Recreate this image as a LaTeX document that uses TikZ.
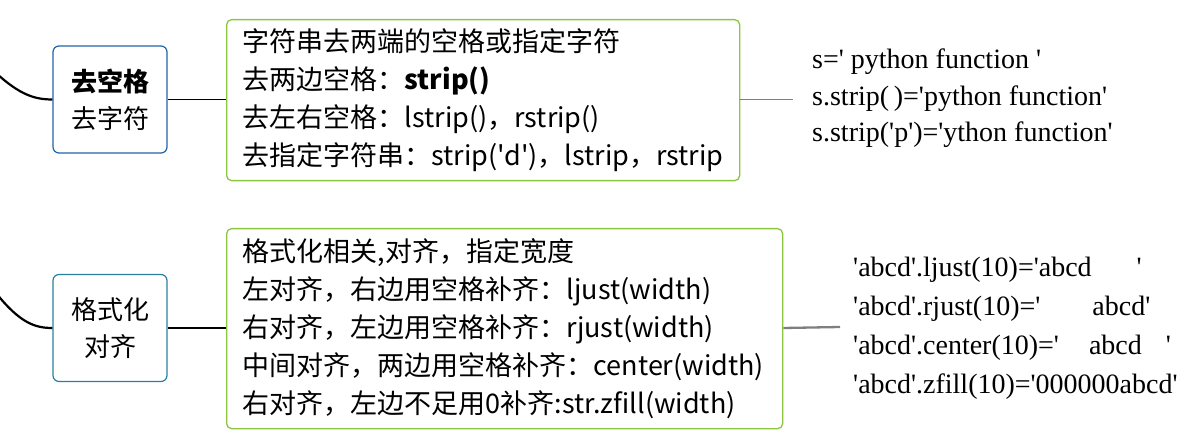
\documentclass[tikz,border=0pt]{standalone}
\usepackage{fontspec}
\setmainfont{Liberation Serif}[Ligatures=TeXOff]
\newfontfamily\cjk{Noto Sans CJK SC}[Ligatures=TeXOff]
\definecolor{grn}{HTML}{8CC63F}
\definecolor{bluA}{HTML}{1E64A8}
\definecolor{bluB}{HTML}{2A7F9E}
\definecolor{gry}{HTML}{7F7F7F}
\tikzset{
  topicbox/.style={draw, line width=1.2pt, rounded corners=6pt, minimum width=114pt, minimum height=107pt, align=center, inner sep=0pt, font=\cjk\fontsize{26}{37}\selectfont},
  notebox/.style={draw=grn, line width=1.3pt, rounded corners=5pt, anchor=north west, align=left, inner xsep=16pt, inner ysep=0pt, font=\cjk\fontsize{27}{37.9}\selectfont},
  exnode/.style={anchor=west, align=left, inner sep=0pt, font=\fontsize{28}{36.5}\selectfont},
  branch/.style={line width=2.2pt},
}
\begin{document}
\begin{tikzpicture}[x=1pt,y=-1pt]
\useasboundingbox (0,0) rectangle (1191,438);
% left topic boxes
\node[topicbox, draw=bluA] (k1) at (110,99.5) {\textbf{去空格}\\去字符};
\node[topicbox, draw=bluB] (k2) at (110,328) {格式化\\对齐};
% incoming curves
\coordinate (s1) at (-4,73);
\coordinate (s2) at (-4,293);
\draw[branch] (s1) .. controls (20,95) and (35,99.5) .. (k1.west);
\draw[branch] (s2) .. controls (20,323) and (35,328) .. (k2.west);
% note boxes
\node[notebox, minimum width=513pt, minimum height=161pt, text width=481pt] (n1) at (226,19)
 {字符串去两端的空格或指定字符\\
  去两边空格：\textbf{strip()}\\
  去左右空格：lstrip()，rstrip()\\
  去指定字符串：strip('d')，lstrip，rstrip};
\node[notebox, minimum width=556pt, minimum height=200pt, text width=524pt] (n2) at (226,228)
 {格式化相关,对齐，指定宽度\\
  左对齐，右边用空格补齐：ljust(width)\\
  右对齐，左边用空格补齐：rjust(width)\\
  中间对齐，两边用空格补齐：center(width)\\
  右对齐，左边不足用0补齐:str.zfill(width)};
\draw[line width=1.5pt] (k1.east) -- (k1.east -| n1.west);
\draw[line width=2.5pt] (k2.east) -- (k2.east -| n2.west);
% examples
\node[exnode] (e1) at (812,98.5)
 {s=' python function '\\
  s.strip(\,)='python function'\\
  s.strip('p')='ython function'};
\node[exnode, font=\fontsize{28}{39}\selectfont] (e2) at (853,328)
 {'abcd'.ljust(10)='abcd\hspace{45pt}'\\
  'abcd'.rjust(10)='\hspace{52pt}abcd'\\
  'abcd'.center(10)='\hspace{30pt}abcd\hspace{24pt}'\\
  'abcd'.zfill(10)='000000abcd'};
\coordinate (t1) at (793,99.5);
\coordinate (t2) at (840,327);
\draw[gry, line width=1.3pt] (n1.east |- k1.east) -- (t1);
\draw[gry, line width=2.3pt] (n2.east |- k2.east) -- (t2);
\end{tikzpicture}
\end{document}
